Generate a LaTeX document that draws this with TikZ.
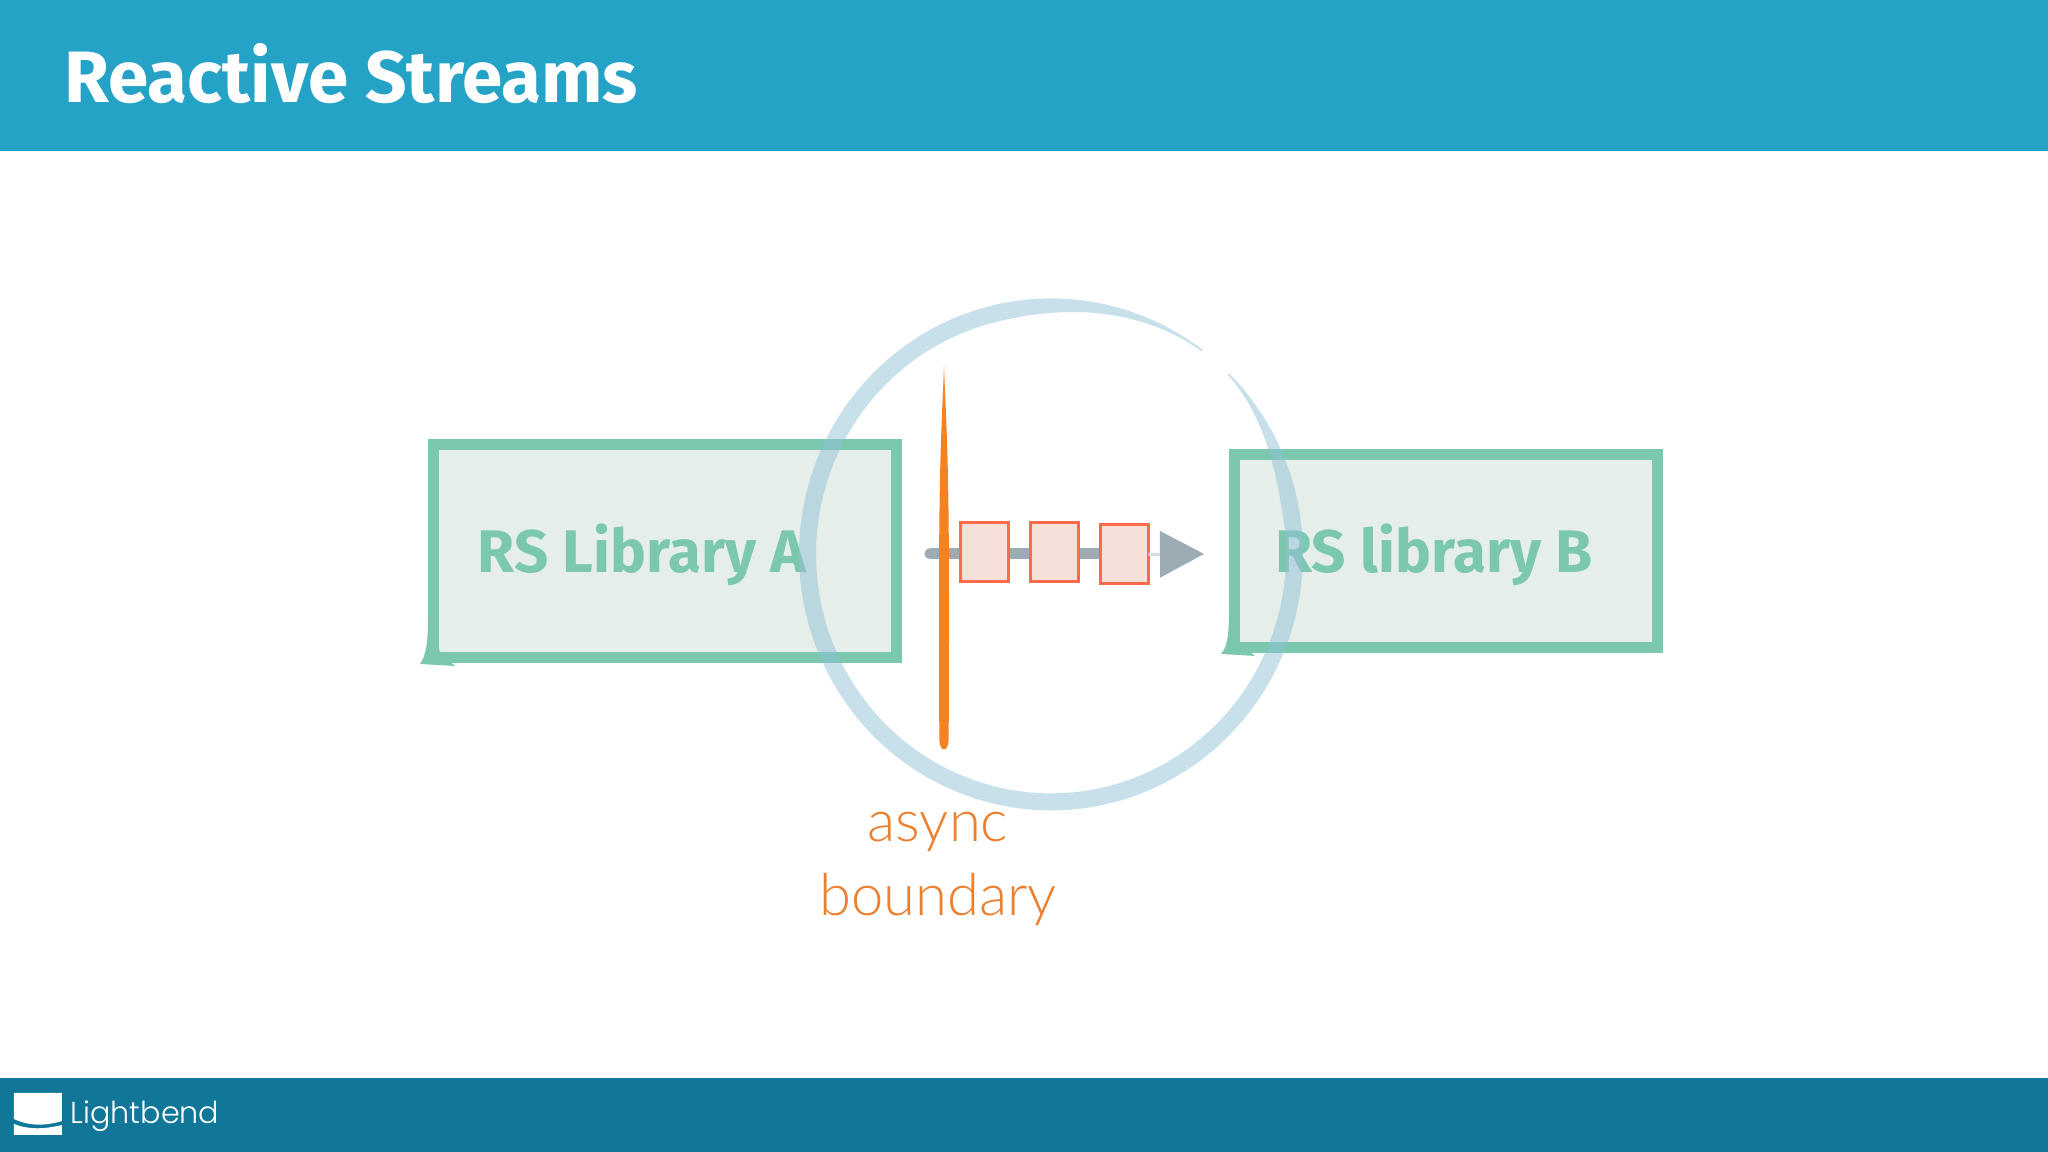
\documentclass[tikz,border=0pt]{standalone}
\usepackage{xcolor}
\usepackage{fontspec}
\usetikzlibrary{arrows.meta, positioning, calc}
\setmainfont{Fira Sans}
\newfontfamily\lightfont{Lato}[UprightFont={* Light}]
\newfontfamily\logofont{Poppins}[UprightFont={* Light}]
\definecolor{rsheader}{HTML}{25A3C7}
\definecolor{rsfooter}{HTML}{117799}
\definecolor{rsgreen}{HTML}{7BC8AE}
\definecolor{rsfill}{HTML}{E6EEEA}
\definecolor{rsorange}{HTML}{F58220}
\definecolor{rstext}{HTML}{EA8030}
\definecolor{rscoral}{HTML}{FF6B4A}
\definecolor{rspink}{HTML}{F5E0DA}
\definecolor{rsgray}{HTML}{9DABB4}
\definecolor{rsring}{HTML}{8FC1D6}
\tikzset{
    library/.style={draw=rsgreen, fill=rsfill, line width=0.11cm, outer sep=0pt},
    libname/.style={text=rsgreen, font=\fontsize{17.1}{20}\selectfont\bfseries},
    element/.style={draw=rscoral, fill=rspink, line width=0.03cm, minimum width=0.48cm, minimum height=0.59cm, outer sep=0pt, inner sep=0pt},
    declare function={
        ringd(\a)=(\a<229)*(\a-49)/55+(\a>=229)*(409-\a)/40;
        rings(\a)=min(1,ringd(\a));
        ringt(\a)=0.015+0.155*rings(\a)*rings(\a)*(3-2*rings(\a));
    }
}

\begin{document}
\begin{tikzpicture}
    \useasboundingbox (0,0) rectangle (20.48,11.52);

    % Bars
    \fill[rsheader] (0,10.005) rectangle (20.48,11.52);
    \fill[rsfooter] (0,0) rectangle (20.48,0.74);
    \node[anchor=base west, inner sep=0pt, text=white, font=\fontsize{20.7}{24}\selectfont\bfseries] (title) at (0.64,10.49) {Reactive Streams};

    % Logo
    \fill[white] (0.14,0.59) -- (0.14,0.33) .. controls (0.26,0.27) and (0.42,0.25) .. (0.62,0.31) -- (0.62,0.59) -- cycle;
    \fill[white] (0.14,0.17) -- (0.14,0.28) .. controls (0.26,0.23) and (0.42,0.22) .. (0.62,0.27) -- (0.62,0.17) -- cycle;
    \node[anchor=base west, inner sep=0pt, text=white, font=\fontsize{8.6}{10}\logofont] (logo) at (0.70,0.28) {Lightbend};

    % Libraries
    \node[library, minimum width=4.63cm, minimum height=2.13cm] (liba) at (6.645,6.005) {};
    \node[library, minimum width=4.23cm, minimum height=1.93cm] (libb) at (14.455,6.005) {};
    \fill[rsgreen] (4.28,5.35) .. controls (4.28,5.05) and (4.25,4.95) .. (4.20,4.88) -- (4.55,4.86) -- (4.40,5.00) -- cycle;
    \fill[rsgreen] (12.29,5.40) .. controls (12.29,5.12) and (12.26,5.04) .. (12.21,4.98) -- (12.55,4.96) -- (12.40,5.08) -- cycle;
    \node[libname] (namea) at (6.42,5.97) {RS Library A};
    \node[libname] (nameb) at (14.34,5.97) {RS library B};

    % Flow
    \coordinate (flowstart) at (9.30,5.98);
    \coordinate (flowstop) at (11.25,5.98);
    \coordinate (flowend) at (12.04,5.98);
    \draw[rsgray, line width=0.11cm, line cap=round] (flowstart) -- (flowstop);
    \node[element] (q1) at (9.845,5.995) {};
    \node[element, right=0.22cm of q1] (q2) {};
    \node[element, right=0.22cm of q2, yshift=-0.02cm] (q3) {};
    \draw[-{Triangle[length=0.44cm, width=0.46cm, color=rsgray]}, rsgray!40, line width=0.03cm] (q3) -- (flowend);

    % Boundary
    \fill[rsorange] (9.44,7.86) .. controls (9.46,7.3) and (9.49,7.0) .. (9.49,5.5) .. controls (9.49,4.8) and (9.49,4.4) .. (9.485,4.1)
        .. controls (9.47,4.0) and (9.41,4.0) .. (9.395,4.1) .. controls (9.39,4.4) and (9.39,4.8) .. (9.39,5.5) .. controls (9.39,7.0) and (9.42,7.3) .. (9.44,7.86) -- cycle;
    \node[text=rstext, align=center, font=\fontsize{16.5}{21.3}\lightfont] (boundary) at (9.38,2.83) {async\\boundary};

    % Ring
    \fill[rsring, fill opacity=0.5] plot[domain=53:405, samples=180, smooth] ({10.51+2.52*cos(\x)},{5.976+2.56*sin(\x)})
        -- plot[domain=405:53, samples=180, smooth] ({10.51+(2.52-ringt(\x))*cos(\x)},{5.976+(2.56-ringt(\x))*sin(\x)}) -- cycle;
\end{tikzpicture}
\end{document}
